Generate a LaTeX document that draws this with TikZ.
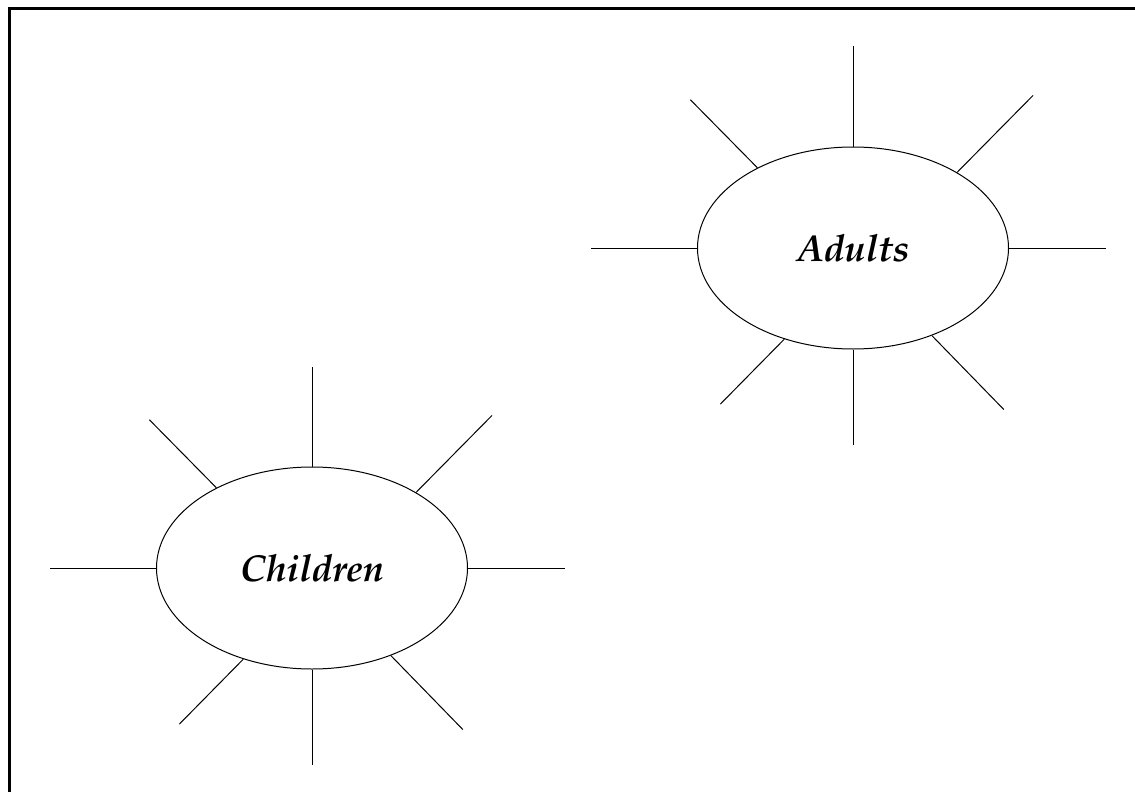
\documentclass[tikz,border=0pt]{standalone}
\usepackage[T1]{fontenc}
\usepackage{mathpazo}
\usetikzlibrary{shapes.geometric}
\begin{document}
\begin{tikzpicture}[x=1pt,y=-1pt,
  blob/.style={draw, ellipse, minimum width=311pt, minimum height=202pt, inner sep=0pt,
    line width=1pt, font=\fontsize{37.5}{42}\selectfont\bfseries\itshape},
  ray/.style={line width=1pt}]
\useasboundingbox (0,0) rectangle (1135,792);
\draw[line width=3pt] (9.5,792) -- (9.5,9) -- (1135,9);
\node[blob] (A) at (853,248) {Adults};
\node[blob] (C) at (312,568) {Children};
\foreach \n in {A,C}{
  \draw[ray] (\n.north) -- ++(0,-100);
  \draw[ray] (\n.south) -- ++(0,95);
  \draw[ray] (\n.west) -- ++(-106,0);
  \draw[ray] (\n.east) -- ++(97,0);
  \draw[ray] (\n.140) -- ++(-67,-68);
  \draw[ray] (\n.36) -- ++(76,-77);
  \draw[ray] (\n.-127) -- ++(-64,65);
  \draw[ray] (\n.-48) -- ++(72,74);
}
\end{tikzpicture}
\end{document}
